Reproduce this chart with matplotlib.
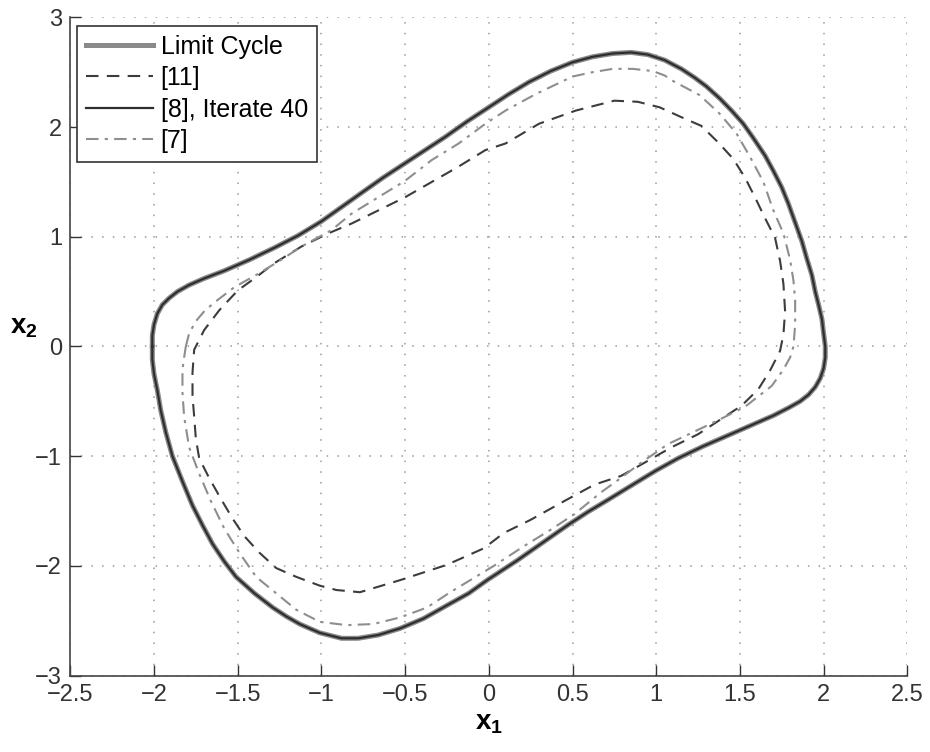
import matplotlib
matplotlib.use("Agg")
import matplotlib.pyplot as plt

# limit cycle (clockwise, starting at leftmost point)
limit_x1 = [-2.01, -2.01, -2.00, -1.98, -1.95, -1.91, -1.86, -1.79, -1.70, -1.58,
            -1.43, -1.28, -1.14, -1.00, -0.88, -0.76, -0.63, -0.50, -0.38, -0.26,
            -0.13, 0.00, 0.12, 0.24, 0.37, 0.50, 0.62, 0.74, 0.85, 0.95,
            1.05, 1.15, 1.23, 1.30, 1.38, 1.45, 1.52, 1.58, 1.65, 1.70,
            1.75, 1.79, 1.83, 1.87, 1.90, 1.93, 1.95, 1.97, 1.99, 2.00,
            2.01, 2.01, 2.00, 1.98, 1.95, 1.91, 1.86, 1.79, 1.70, 1.58,
            1.43, 1.28, 1.13, 1.00, 0.86, 0.71, 0.59, 0.47, 0.32, 0.17,
            0.08, -0.01, -0.12, -0.25, -0.39, -0.53, -0.66, -0.78, -0.88, -1.01,
            -1.13, -1.21, -1.29, -1.40, -1.51, -1.58, -1.65, -1.71, -1.77, -1.83,
            -1.89, -1.93, -1.96, -1.98, -2.00, -2.01, -2.01]
limit_x2 = [0.00, 0.10, 0.20, 0.30, 0.38, 0.44, 0.50, 0.56, 0.62, 0.69,
            0.79, 0.90, 1.01, 1.14, 1.27, 1.40, 1.54, 1.67, 1.79, 1.91,
            2.05, 2.18, 2.30, 2.41, 2.51, 2.59, 2.64, 2.67, 2.68, 2.66,
            2.61, 2.53, 2.45, 2.37, 2.26, 2.15, 2.03, 1.90, 1.74, 1.60,
            1.45, 1.30, 1.13, 0.96, 0.80, 0.65, 0.50, 0.38, 0.25, 0.12,
            0.00, -0.10, -0.20, -0.29, -0.37, -0.44, -0.50, -0.56, -0.63, -0.71,
            -0.81, -0.91, -1.02, -1.13, -1.26, -1.40, -1.51, -1.63, -1.79, -1.95,
            -2.04, -2.13, -2.25, -2.36, -2.48, -2.57, -2.63, -2.66, -2.66, -2.61,
            -2.53, -2.46, -2.38, -2.25, -2.10, -1.96, -1.80, -1.63, -1.45, -1.23,
            -1.00, -0.78, -0.58, -0.40, -0.25, -0.12, 0.00]

# [8], iterate 40 -- sits on top of the limit cycle
iter40_x1 = list(limit_x1)
iter40_x2 = list(limit_x2)

# [11]
ref11_x1 = [-1.77, -1.77, -1.76, -1.70, -1.61, -1.50, -1.40, -1.28, -1.12, -0.96,
            -0.82, -0.66, -0.50, -0.34, -0.18, -0.02, 0.10, 0.30, 0.52, 0.75,
            0.89, 1.02, 1.15, 1.27, 1.37, 1.46, 1.53, 1.59, 1.65, 1.71,
            1.74, 1.76, 1.77, 1.76, 1.74, 1.68, 1.61, 1.51, 1.39, 1.25,
            1.09, 0.93, 0.79, 0.63, 0.45, 0.25, 0.09, -0.03, -0.25, -0.53,
            -0.77, -0.91, -1.01, -1.15, -1.27, -1.37, -1.46, -1.53, -1.60, -1.67,
            -1.73, -1.75, -1.76, -1.77]
ref11_x2 = [-0.45, -0.24, -0.03, 0.15, 0.33, 0.51, 0.62, 0.76, 0.91, 1.03,
            1.12, 1.24, 1.36, 1.50, 1.64, 1.79, 1.85, 2.03, 2.15, 2.24,
            2.23, 2.18, 2.09, 2.01, 1.86, 1.71, 1.54, 1.36, 1.17, 0.99,
            0.78, 0.57, 0.32, 0.11, -0.04, -0.22, -0.39, -0.54, -0.66, -0.80,
            -0.92, -1.06, -1.18, -1.26, -1.41, -1.58, -1.70, -1.84, -1.99, -2.13,
            -2.24, -2.22, -2.18, -2.10, -2.02, -1.88, -1.73, -1.57, -1.39, -1.20,
            -1.02, -0.84, -0.64, -0.45]

# [7]
ref7_x1 = [-1.81, -1.79, -1.75, -1.70, -1.64, -1.52, -1.38, -1.24, -1.12, -0.94,
           -0.82, -0.66, -0.50, -0.34, -0.18, -0.02, 0.10, 0.28, 0.50, 0.62,
           0.74, 0.86, 0.98, 1.05, 1.10, 1.26, 1.38, 1.48, 1.56, 1.64,
           1.70, 1.76, 1.80, 1.82, 1.83, 1.83, 1.82, 1.80, 1.76, 1.69,
           1.53, 1.40, 1.25, 1.07, 0.91, 0.77, 0.67, 0.51, 0.37, 0.21,
           0.03, -0.23, -0.37, -0.53, -0.69, -0.85, -1.01, -1.15, -1.27, -1.39,
           -1.49, -1.58, -1.66, -1.73, -1.79, -1.82, -1.83, -1.83, -1.82, -1.81]
ref7_x2 = [0.00, 0.12, 0.23, 0.32, 0.40, 0.54, 0.66, 0.79, 0.91, 1.06,
           1.21, 1.36, 1.51, 1.70, 1.85, 2.03, 2.15, 2.30, 2.46, 2.50,
           2.53, 2.53, 2.51, 2.47, 2.42, 2.29, 2.12, 1.94, 1.73, 1.50,
           1.24, 1.03, 0.79, 0.60, 0.42, 0.20, 0.00, -0.10, -0.21, -0.36,
           -0.55, -0.65, -0.76, -0.89, -1.06, -1.22, -1.33, -1.53, -1.67, -1.82,
           -2.00, -2.24, -2.38, -2.47, -2.53, -2.54, -2.51, -2.40, -2.25, -2.10,
           -1.88, -1.66, -1.41, -1.16, -0.92, -0.64, -0.42, -0.21, -0.10, 0.00]

x_ticks = [-2.5, -2, -1.5, -1, -0.5, 0, 0.5, 1, 1.5, 2, 2.5]
y_ticks = [-3, -2, -1, 0, 1, 2, 3]

plt.rcParams["font.family"] = ["Liberation Sans", "DejaVu Sans"]
plt.rcParams["mathtext.fontset"] = "custom"
plt.rcParams["mathtext.rm"] = "Liberation Sans"
plt.rcParams["mathtext.bf"] = "Liberation Sans:bold"

fig = plt.figure(figsize=(9.3, 7.52), dpi=100)
ax = fig.add_axes([70.3 / 930, 1 - 675.6 / 752, 837 / 930, 658.3 / 752])

ax.plot(limit_x1, limit_x2, color="#8a8a8a", lw=3.6, solid_joinstyle="round",
        label="Limit Cycle")
ax.plot(ref11_x1, ref11_x2, color="#3c3c3c", lw=1.5, dashes=(6, 4), label="[11]")
ax.plot(iter40_x1, iter40_x2, color="#2e2e2e", lw=1.6, label="[8], Iterate 40")
ax.plot(ref7_x1, ref7_x2, color="#8e8e8e", lw=1.5, dashes=(6, 3, 1.5, 3),
        label="[7]")

ax.set_xlim(-2.5, 2.5)
ax.set_ylim(-3, 3)
ax.set_xticks(x_ticks)
ax.set_yticks(y_ticks)
ax.set_xticklabels([f"{t:g}".replace("-", "\u2212") for t in x_ticks])
ax.set_yticklabels([f"{t:g}".replace("-", "\u2212") for t in y_ticks])
ax.tick_params(direction="in", length=8, width=1, labelsize=17, colors="#333333",
               pad=6)
ax.grid(True, color="#9a9a9a", linestyle=(0, (1, 6)), lw=1.1)
for side in ["top", "right"]:
    ax.spines[side].set_visible(False)
for side in ["left", "bottom"]:
    ax.spines[side].set_color("#444444")
    ax.spines[side].set_linewidth(1.2)

ax.set_xlabel(r"$\mathbf{x_1}$", fontsize=20)
ax.set_ylabel(r"$\mathbf{x_2}$", fontsize=20, rotation=0)
ax.xaxis.set_label_coords(0.5, -0.052)
ax.yaxis.set_label_coords(-0.055, 0.51)

leg = ax.legend(loc="upper left", bbox_to_anchor=(0.008, 0.987), borderaxespad=0,
                fontsize=18, fancybox=False, framealpha=1, edgecolor="#333333",
                handlelength=2.7, handletextpad=0.3, labelspacing=0.3,
                borderpad=0.35)
leg.get_frame().set_linewidth(1.2)

fig.savefig("out.png", dpi=100)
